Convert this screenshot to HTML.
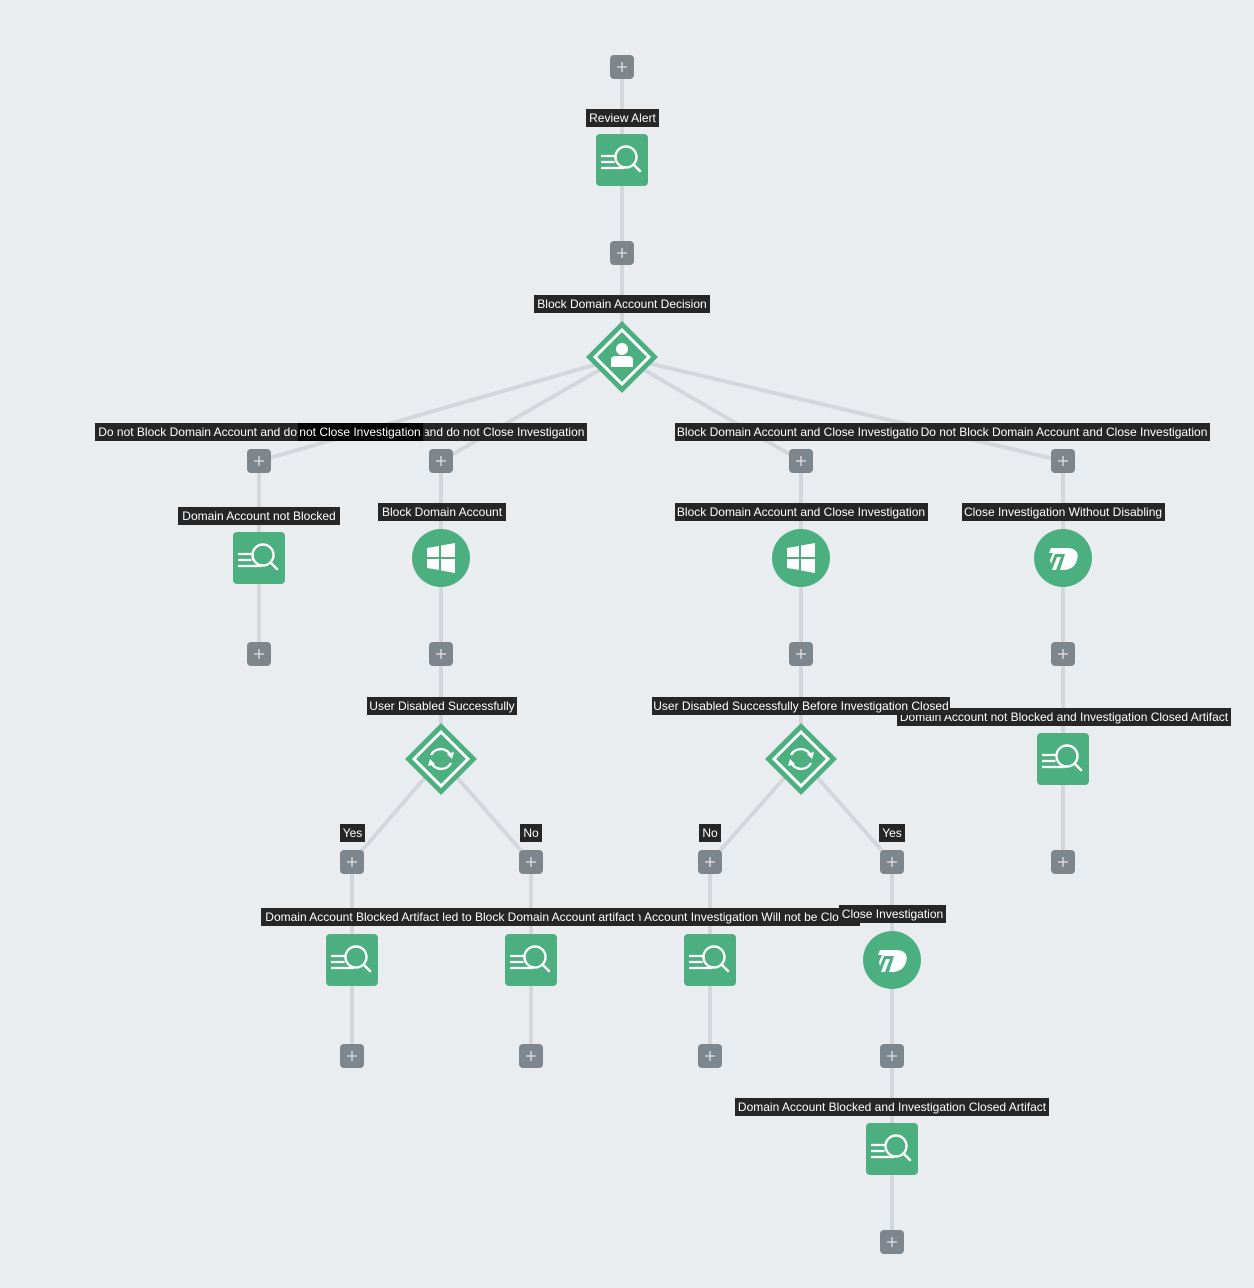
<!DOCTYPE html>
<html><head><meta charset="utf-8"><style>
html,body{margin:0;padding:0;background:#e9edf0;overflow:hidden;}
svg{display:block;}
text{font-family:"Liberation Sans",sans-serif;font-size:12px;fill:#fff;}
</style></head><body>
<svg width="1254" height="1288" viewBox="0 0 1254 1288" xmlns="http://www.w3.org/2000/svg">
<defs>
<clipPath id="cl"><rect x="560" y="908" width="279" height="18"/></clipPath>
<g id="plus">
<rect x="-12" y="-12" width="24" height="24" rx="4" fill="#7d858d"/>
<path d="M-5 0H5M0 -5V5" stroke="#dfe3e6" stroke-width="1.3"/>
</g>
<g id="sq">
<rect x="-26" y="-26" width="52" height="52" rx="4" fill="#4caf80"/>
<circle cx="4" cy="-3" r="10.5" fill="none" stroke="#fff" stroke-width="2.4"/>
<path d="M11.5 4.5L18 11" stroke="#fff" stroke-width="2.6" stroke-linecap="round"/>
<path d="M-21 -4H-7M-21 2H-7.5M-21 8H2" stroke="#fff" stroke-width="2.2"/>
</g>
<g id="win">
<circle r="29" fill="#4caf80"/>
<path d="M-14 -10L-2 -12V-1H-14ZM0 -12.5L14 -15V-1H0ZM-14 1H-2V12L-14 10ZM0 1H14V15L0 12.5Z" fill="#fff"/>
</g>
<g id="dl">
<circle r="29" fill="#4caf80"/>
<path d="M-12 -10H4C14 -10 16 -4 14 2C12 9 7 12 0 12H-3L2 -4H-8L-12 6L-13 2L-10 -5H-14Z" fill="#fff"/>
<path d="M-6 -1H-2L-7 12H-11Z" fill="#fff"/>
</g>
<g id="dia">
<path d="M0 -36L36 0L0 36L-36 0Z" fill="#4caf80"/>
<path d="M0 -27L27 0L0 27L-27 0Z" fill="none" stroke="#fff" stroke-width="3"/>
</g>
</defs>
<g stroke="#d3d7db" stroke-width="4" fill="none">
<path d="M622 67V357"/>
<path d="M622 357L259 461M622 357L441 461M622 357L801 461M622 357L1063 461"/>
<path d="M259 461V654M441 461V759M801 461V759M1063 461V862"/>
<path d="M441 759L352 862M441 759L531 862M801 759L710 862M801 759L892 862"/>
<path d="M352 862V1056M531 862V1056M710 862V1056M892 862V1242"/>
</g>
<use href="#plus" x="622" y="67"/>
<use href="#plus" x="622" y="253"/>
<use href="#plus" x="259" y="461"/><use href="#plus" x="441" y="461"/><use href="#plus" x="801" y="461"/><use href="#plus" x="1063" y="461"/>
<use href="#plus" x="259" y="654"/><use href="#plus" x="441" y="654"/><use href="#plus" x="801" y="654"/><use href="#plus" x="1063" y="654"/>
<use href="#plus" x="352" y="862"/><use href="#plus" x="531" y="862"/><use href="#plus" x="710" y="862"/><use href="#plus" x="892" y="862"/><use href="#plus" x="1063" y="862"/>
<use href="#plus" x="352" y="1056"/><use href="#plus" x="531" y="1056"/><use href="#plus" x="710" y="1056"/><use href="#plus" x="892" y="1056"/>
<use href="#plus" x="892" y="1242"/>
<use href="#sq" x="622" y="160"/>
<use href="#sq" x="259" y="558"/>
<use href="#sq" x="1063" y="759"/>
<use href="#sq" x="352" y="960"/><use href="#sq" x="531" y="960"/><use href="#sq" x="710" y="960"/>
<use href="#sq" x="892" y="1149"/>
<use href="#win" x="441" y="558"/><use href="#win" x="801" y="558"/>
<use href="#dl" x="1063" y="558"/><use href="#dl" x="892" y="960"/>
<use href="#dia" x="622" y="357"/>
<g transform="translate(622 357)" fill="#fff"><circle cy="-8" r="6"/><path d="M-11 10V3Q-11 -1 -6 -1H6Q11 -1 11 3V10Z"/></g>
<use href="#dia" x="441" y="759"/><use href="#dia" x="801" y="759"/>
<g fill="none" stroke="#fff" stroke-width="2.4">
<path d="M431 755A11 11 0 0 1 451 756M451 763A11 11 0 0 1 431 762"/>
<path d="M791 755A11 11 0 0 1 811 756M811 763A11 11 0 0 1 791 762"/>
</g>
<g fill="#fff"><path d="M454 752L452 759L447 754Z M428 766L430 759L435 764Z M814 752L812 759L807 754Z M788 766L790 759L795 764Z"/></g>
<g>
<rect x="586" y="109" width="73" height="18" fill="#262626"/><text x="622.5" y="122" text-anchor="middle">Review Alert</text>
<rect x="534" y="295" width="176" height="18" fill="#262626"/><text x="622" y="308" text-anchor="middle">Block Domain Account Decision</text>
<rect x="297" y="423" width="290" height="18" fill="#262626"/><text x="442" y="436" text-anchor="middle">Block Domain Account and do not Close Investigation</text>
<rect x="95" y="423" width="330" height="18" fill="#262626"/><text x="260" y="436" text-anchor="middle">Do not Block Domain Account and do not Close Investigation</text>
<rect x="298" y="423" width="125" height="18" fill="#000"/><text x="360" y="436" text-anchor="middle">not Close Investigation</text>
<rect x="675" y="423" width="252" height="18" fill="#262626"/><text x="801" y="436" text-anchor="middle">Block Domain Account and Close Investigation</text>
<rect x="919" y="423" width="291" height="18" fill="#262626"/><text x="1064" y="436" text-anchor="middle">Do not Block Domain Account and Close Investigation</text>
<rect x="178" y="507" width="162" height="18" fill="#262626"/><text x="259" y="520" text-anchor="middle">Domain Account not Blocked</text>
<rect x="378" y="503" width="128" height="18" fill="#262626"/><text x="442" y="516" text-anchor="middle">Block Domain Account</text>
<rect x="675" y="503" width="253" height="18" fill="#262626"/><text x="801" y="516" text-anchor="middle">Block Domain Account and Close Investigation</text>
<rect x="962" y="503" width="203" height="18" fill="#262626"/><text x="1063" y="516" text-anchor="middle">Close Investigation Without Disabling</text>
<rect x="897" y="708" width="334" height="18" fill="#262626"/><text x="1064" y="721" text-anchor="middle">Domain Account not Blocked and Investigation Closed Artifact</text>
<rect x="367" y="697" width="150" height="18" fill="#262626"/><text x="442" y="710" text-anchor="middle">User Disabled Successfully</text>
<rect x="652" y="697" width="298" height="18" fill="#262626"/><text x="801" y="710" text-anchor="middle">User Disabled Successfully Before Investigation Closed</text>
<rect x="340" y="824" width="25" height="18" fill="#262626"/><text x="352.5" y="837" text-anchor="middle">Yes</text>
<rect x="520" y="824" width="22" height="18" fill="#262626"/><text x="531" y="837" text-anchor="middle">No</text>
<rect x="699" y="824" width="22" height="18" fill="#262626"/><text x="710" y="837" text-anchor="middle">No</text>
<rect x="879" y="824" width="26" height="18" fill="#262626"/><text x="892" y="837" text-anchor="middle">Yes</text>
<rect x="560" y="908" width="300" height="18" fill="#262626"/><g clip-path="url(#cl)"><text x="600" y="921">Domain Account Investigation Will not be Closed Artifact</text></g>
<rect x="423" y="908" width="215" height="18" fill="#262626"/><text x="530" y="921" text-anchor="middle">Failed to Block Domain Account artifact</text>
<rect x="261" y="908" width="182" height="18" fill="#262626"/><text x="352" y="921" text-anchor="middle">Domain Account Blocked Artifact</text>
<rect x="839" y="905" width="107" height="18" fill="#262626"/><text x="892.5" y="918" text-anchor="middle">Close Investigation</text>
<rect x="735" y="1098" width="314" height="18" fill="#262626"/><text x="892" y="1111" text-anchor="middle">Domain Account Blocked and Investigation Closed Artifact</text>
</g>
</svg>
</body></html>
